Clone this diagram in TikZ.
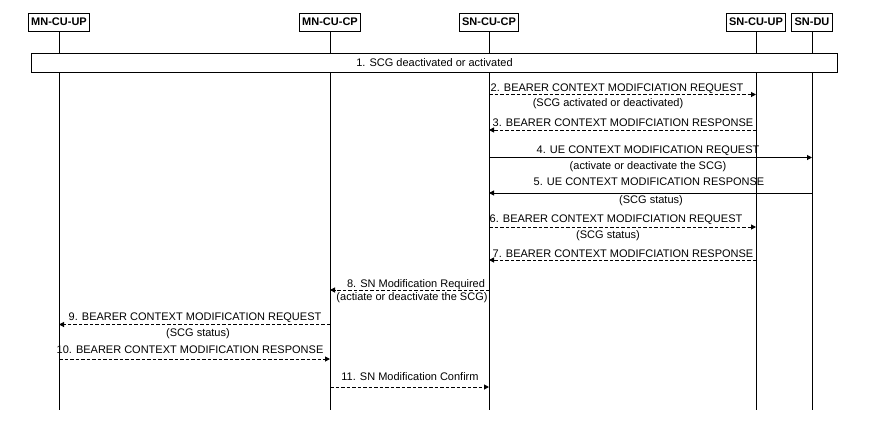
\documentclass[tikz,border=0pt]{standalone}
\usepackage{fontspec}
\setmainfont{Liberation Sans}
\usetikzlibrary{arrows.meta}
\begin{document}
\begin{tikzpicture}[x=1bp,y=-1bp,
  every node/.style={font=\fontsize{11bp}{13bp}\selectfont, inner sep=0pt},
  head/.style={draw, line width=1bp, font=\fontsize{11bp}{13bp}\selectfont\bfseries,
    minimum height=18bp, inner xsep=3bp, fill=white},
  life/.style={line width=1bp},
  smsg/.style={line width=1bp, -{Triangle[length=5bp,width=5bp]}},
  dmsg/.style={smsg, dash pattern=on 3.5bp off 2bp},
  lbl/.style={anchor=base},
  band/.style={draw, line width=1bp, fill=white, minimum width=805bp, minimum height=19bp}
]
\useasboundingbox (0,0) rectangle (885,426);
% heads
\node[head] (mncuup) at (59,22) {MN-CU-UP};
\node[head] (mncucp) at (330,22) {MN-CU-CP};
\node[head] (sncucp) at (489,22) {SN-CU-CP};
\node[head] (sncuup) at (756,22) {SN-CU-UP};
\node[head] (sndu)   at (812,22) {SN-DU};
% lifeline ends
\coordinate (mncuupend) at (59,410);
\coordinate (mncucpend) at (330,410);
\coordinate (sncucpend) at (489,410);
\coordinate (sncuupend) at (756,410);
\coordinate (sneduend)  at (812,410);
\draw[life] (mncuup.south) -- (mncuupend);
\draw[life] (mncucp.south) -- (mncucpend);
\draw[life] (sncucp.south) -- (sncucpend);
\draw[life] (sncuup.south) -- (sncuupend);
\draw[life] (sndu.south) -- (sneduend);
% step 1
\node[band] (step1) at (434.5,62.5) {1. SCG deactivated or activated};
% 2
\draw[dmsg] (sncucp |- 0,94.5) -- (sncuup |- 0,94.5);
\node[lbl] (l2) at (617,91) {2. BEARER CONTEXT MODIFCIATION REQUEST};
\node[lbl] (s2) at (608,106.5) {(SCG activated or deactivated)};
% 3
\draw[dmsg] (sncuup |- 0,130) -- (sncucp |- 0,130);
\node[lbl] (l3) at (623,126.5) {3. BEARER CONTEXT MODIFCIATION RESPONSE};
% 4
\draw[smsg] (sncucp |- 0,157.5) -- (sndu |- 0,157.5);
\node[lbl] (l4) at (648,153) {4. UE CONTEXT MODIFICATION REQUEST};
\node[lbl] (s4) at (648,169) {(activate or deactivate the SCG)};
% 5
\draw[smsg] (sndu |- 0,193) -- (sncucp |- 0,193);
\node[lbl] (l5) at (649,185) {5. UE CONTEXT MODIFICATION RESPONSE};
\node[lbl] (s5) at (651,203) {(SCG status)};
% 6
\draw[dmsg] (sncucp |- 0,227) -- (sncuup |- 0,227);
\node[lbl] (l6) at (616,222) {6. BEARER CONTEXT MODIFCIATION REQUEST};
\node[lbl] (s6) at (608,238) {(SCG status)};
% 7
\draw[dmsg] (sncuup |- 0,260) -- (sncucp |- 0,260);
\node[lbl] (l7) at (623,257) {7. BEARER CONTEXT MODIFCIATION RESPONSE};
% 8
\draw[dmsg] (sncucp |- 0,290) -- (mncucp |- 0,290);
\node[lbl] (l8) at (416,287) {8. SN Modification Required};
\node[lbl] (s8) at (412,300.5) {(actiate or deactivate the SCG)};
% 9
\draw[dmsg] (mncucp |- 0,324.5) -- (mncuup |- 0,324.5);
\node[lbl] (l9) at (195,320.5) {9. BEARER CONTEXT MODIFICATION REQUEST};
\node[lbl] (s9) at (198,336) {(SCG status)};
% 10
\draw[dmsg] (mncuup |- 0,359) -- (mncucp |- 0,359);
\node[lbl] (l10) at (190,353.5) {10. BEARER CONTEXT MODIFICATION RESPONSE};
% 11
\draw[dmsg] (mncucp |- 0,387) -- (sncucp |- 0,387);
\node[lbl] (l11) at (410,380) {11. SN Modification Confirm};
\end{tikzpicture}
\end{document}
